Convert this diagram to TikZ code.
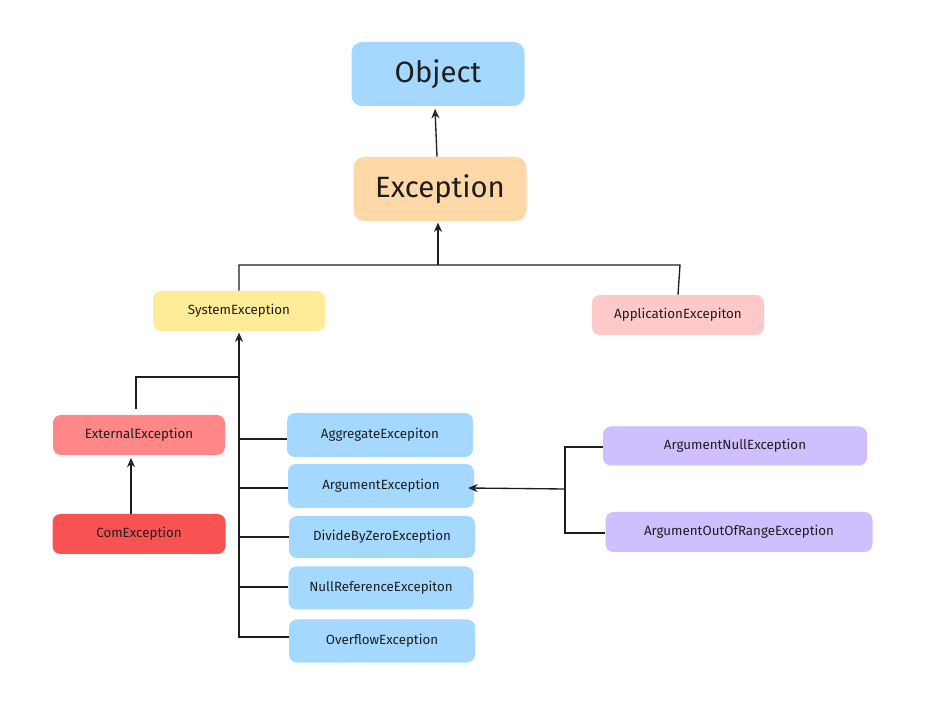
\documentclass[tikz,border=0pt]{standalone}
\usepackage{fontspec}
\setmainfont{Fira Sans}
\usetikzlibrary{arrows.meta}
\definecolor{blu}{HTML}{A5D8FF}
\definecolor{ora}{HTML}{FFD8A8}
\definecolor{yel}{HTML}{FFEC99}
\definecolor{pnk}{HTML}{FFC9C9}
\definecolor{red1}{HTML}{FF8787}
\definecolor{red2}{HTML}{FA5252}
\definecolor{pur}{HTML}{D0BFFF}
\definecolor{ink}{HTML}{1E1E1E}
\begin{document}
\begin{tikzpicture}[x=0.75pt,y=-0.75pt,
 box/.style={draw=none,rounded corners=6pt,text=ink,inner sep=0pt,font=\fontsize{10}{12}\selectfont},
 big/.style={box,rounded corners=8pt,font=\fontsize{22}{26}\selectfont},
 ln/.style={draw=ink,line width=1pt},
 ar/.style={ln,-{Stealth[length=7pt,width=6pt,open]}}]
\useasboundingbox (0,0) rectangle (932,712);
\node[big,fill=blu,minimum width=173*0.75pt,minimum height=64*0.75pt] (obj) at (438,74) {Object};
\node[big,fill=ora,minimum width=173*0.75pt,minimum height=64*0.75pt] (exc) at (440,189) {Exception};
\node[box,fill=yel,minimum width=172*0.75pt,minimum height=40*0.75pt] (sys) at (239,311) {SystemException};
\node[box,fill=pnk,minimum width=172*0.75pt,minimum height=40*0.75pt] (app) at (678,315) {ApplicationExcepiton};
\node[box,fill=red1,minimum width=172*0.75pt,minimum height=40*0.75pt] (ext) at (139,435) {ExternalException};
\node[box,fill=red2,minimum width=173*0.75pt,minimum height=40*0.75pt] (com) at (139,534) {ComException};
\node[box,fill=blu,minimum width=186*0.75pt,minimum height=44*0.75pt] (agg) at (380,435) {AggregateExcepiton};
\node[box,fill=blu,minimum width=186*0.75pt,minimum height=44*0.75pt] (arg) at (381,486) {ArgumentException};
\node[box,fill=blu,minimum width=186*0.75pt,minimum height=42*0.75pt] (div) at (382,537) {DivideByZeroException};
\node[box,fill=blu,minimum width=185*0.75pt,minimum height=43*0.75pt] (nul) at (381,588) {NullReferenceExcepiton};
\node[box,fill=blu,minimum width=186*0.75pt,minimum height=43*0.75pt] (ovf) at (382,641) {OverflowException};
\node[box,fill=pur,minimum width=264*0.75pt,minimum height=39*0.75pt] (an) at (735,446) {ArgumentNullException};
\node[box,fill=pur,minimum width=267*0.75pt,minimum height=40*0.75pt] (aor) at (739,532) {ArgumentOutOfRangeException};
% connectors
\draw[ar] ([xshift=-3*0.75pt]exc.north) -- ([xshift=-3*0.75pt,yshift=-2pt]obj.south);
\coordinate (j1) at (438,265);
\draw[ar] (j1) -- ([xshift=-2*0.75pt,yshift=-1pt]exc.south);
\draw[ln] (sys.north) -- (239,265) -- (680,265) -- (app.north);
\coordinate (sb) at (239,638);
\draw[ar] (sb) -- ([yshift=-1pt]sys.south);
\coordinate (j2) at (239,377);
\draw[ln] (j2) -- (136,377) -- ([xshift=-3*0.75pt,yshift=4pt]ext.north);
\draw[ln] (239,439) -- (agg.west|-239,439);
\draw[ln] (239,488) -- (arg.west|-239,488);
\draw[ln] (239,537) -- (div.west);
\draw[ln] (239,587) -- (nul.west|-239,587);
\draw[ln] (239,637) -- (ovf.west|-239,637);
\draw[ar] ([xshift=-8*0.75pt]com.north) -- ([xshift=-8*0.75pt,yshift=-2pt]ext.south);
\coordinate (j3) at (565,489);
\draw[ar] (j3) -- ([xshift=-6*0.75pt]arg.east|-565,488);
\draw[ln] (an.west|-565,447) -- (565,447) -- (565,533) -- (aor.west|-565,533);
\end{tikzpicture}
\end{document}
